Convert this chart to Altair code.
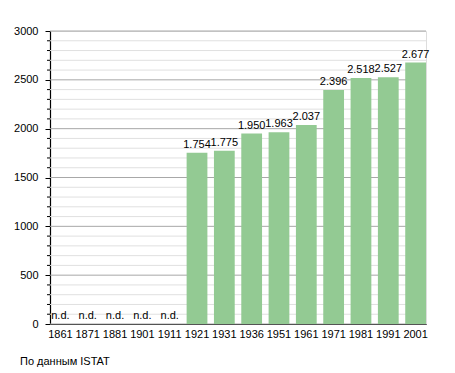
import altair as alt
import pandas as pd

years = ["1861", "1871", "1881", "1901", "1911", "1921", "1931", "1936",
         "1951", "1961", "1971", "1981", "1991", "2001"]
values = [None, None, None, None, None, 1754, 1775, 1950, 1963, 2037,
          2396, 2518, 2527, 2677]
labels = ["n.d.", "n.d.", "n.d.", "n.d.", "n.d.", "1.754", "1.775", "1.950",
          "1.963", "2.037", "2.396", "2.518", "2.527", "2.677"]
major_ticks = [0, 500, 1000, 1500, 2000, 2500, 3000]
minor_ticks = [v for v in range(0, 3001, 100) if v % 500 != 0]
caption = "По данным  ISTAT"

df = pd.DataFrame({"year": years, "value": values, "label": labels})
df["ypos"] = df["value"].fillna(0)
df_major = pd.DataFrame({"v": major_ticks})
df_minor = pd.DataFrame({"v": minor_ticks})

FONT = "Liberation Sans"
y_scale = alt.Scale(domain=[0, 3000], nice=False)

minor_grid = alt.Chart(df_minor).mark_rule(color="#e0e0e0", strokeWidth=1).encode(
    y=alt.Y("v:Q", scale=y_scale), x=alt.value(0), x2=alt.value(376))
major_grid = alt.Chart(df_major).mark_rule(color="#a8a8a8", strokeWidth=1).encode(
    y=alt.Y("v:Q", scale=y_scale), x=alt.value(0), x2=alt.value(376))
minor_tk = alt.Chart(df_minor).mark_rule(color="black", strokeWidth=1).encode(
    y=alt.Y("v:Q", scale=y_scale), x=alt.value(-3), x2=alt.value(0))

bars = alt.Chart(df).mark_bar(color="#93ca93").encode(
    x=alt.X("year:N", sort=years, title=None,
            scale=alt.Scale(paddingInner=0.24, paddingOuter=0),
            axis=alt.Axis(labelAngle=0, tickSize=0, labelPadding=4,
                          labelOverlap=False,
                          labelFontSize=11, labelColor="black", labelFont=FONT,
                          domainColor="black", domainWidth=1.2, grid=False)),
    y=alt.Y("value:Q", scale=y_scale, title=None,
            axis=alt.Axis(values=major_ticks, format="d", grid=False,
                          tickSize=5, tickColor="black", labelOverlap=False,
                          labelFontSize=11, labelColor="black", labelFont=FONT,
                          labelPadding=7, domainColor="black", domainWidth=1.2)),
)

text = alt.Chart(df).mark_text(baseline="bottom", dy=-3, fontSize=11,
                                font=FONT, color="black").encode(
    x=alt.X("year:N", sort=years),
    y=alt.Y("ypos:Q", scale=y_scale),
    text="label:N",
)

cap = alt.Chart(pd.DataFrame({"t": [caption]})).mark_text(
    align="left", baseline="middle", fontSize=11, font=FONT, color="black"
).encode(x=alt.value(-30), y=alt.value(331), text="t:N")

chart = alt.layer(minor_grid, major_grid, bars, minor_tk, text, cap).properties(
    width=376, height=293,
    autosize=alt.AutoSizeParams(type="none"),
    padding={"left": 42, "top": 23, "right": 13, "bottom": 45},
).configure_view(stroke=None).configure(background="white")

chart.save("out.html", embed_options={"renderer": "svg", "actions": False})
